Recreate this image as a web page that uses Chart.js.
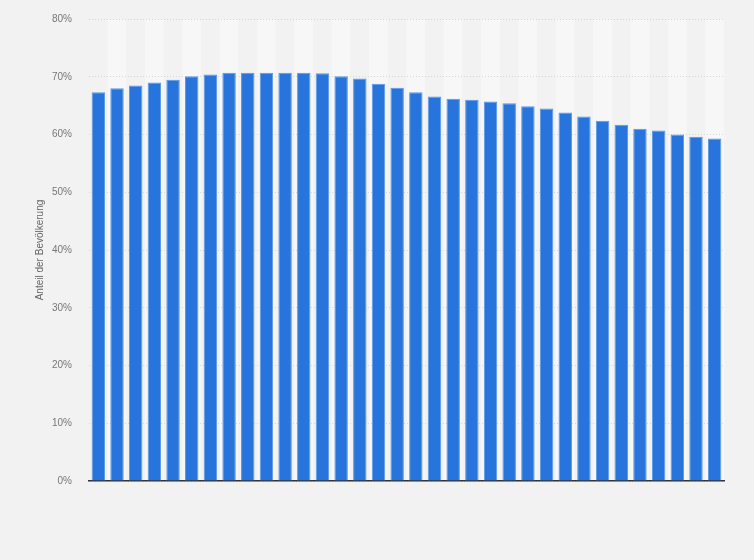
<!DOCTYPE html>
<html>
<head>
<meta charset="utf-8">
<script src="https://cdn.jsdelivr.net/npm/chart.js@4.4.1/dist/chart.umd.min.js"></script>
<style>
  html, body { margin: 0; padding: 0; background: #f2f2f2; }
  #wrap { width: 754px; height: 560px; position: relative; }
</style>
</head>
<body>
<div id="wrap"><canvas id="c"></canvas></div>
<script>
const categories = ['2017','2018','2019','2020','2021','2022','2023','2024','2025','2026','2027','2028','2029','2030','2031','2032','2033','2034','2035','2036','2037','2038','2039','2040','2041','2042','2043','2044','2045','2046','2047','2048','2049','2050'];
const shareValues = [67.3, 68.0, 68.5, 69.0, 69.5, 70.1, 70.4, 70.7, 70.7, 70.7, 70.7, 70.7, 70.6, 70.1, 69.7, 68.8, 68.1, 67.3, 66.6, 66.2, 66.0, 65.7, 65.4, 64.9, 64.5, 63.8, 63.1, 62.4, 61.7, 61.0, 60.7, 60.0, 59.6, 59.3];
const yTicks = [0, 10, 20, 30, 40, 50, 60, 70, 80];
const yTitle = 'Anteil der Bevölkerung';

const stripeUnderGrid = {
  id: 'stripesUnder',
  beforeDraw(chart) {
    const {ctx, chartArea, scales} = chart;
    const x = scales.x;
    if (!x) return;
    ctx.save();
    const half = (x.getPixelForValue(1) - x.getPixelForValue(0)) / 2;
    for (let i = 0; i < categories.length; i++) {
      const c = x.getPixelForValue(i);
      ctx.fillStyle = (i % 2 === 1) ? '#f7f7f7' : '#f2f2f2';
      ctx.fillRect(c - half, chartArea.top, half * 2, chartArea.bottom - chartArea.top);
    }
    ctx.restore();
  }
};

new Chart(document.getElementById('c'), {
  type: 'bar',
  data: {
    labels: categories,
    datasets: [{
      data: shareValues,
      backgroundColor: '#2775dc',
      borderColor: '#5a98e6',
      borderWidth: 1,
      barPercentage: 0.72,
      categoryPercentage: 1.0
    }]
  },
  options: {
    responsive: true,
    maintainAspectRatio: false,
    animation: false,
    layout: { padding: { left: 0, right: 30, top: 19, bottom: 79 } },
    plugins: { legend: { display: false }, tooltip: { enabled: false } },
    scales: {
      x: {
        ticks: { display: false },
        grid: { display: false, drawTicks: false },
        border: { display: true, color: '#333333', width: 1.5 },
        afterFit(scale) { scale.height = 0; scale.paddingLeft = 0; scale.paddingRight = 0; }
      },
      y: {
        min: 0,
        max: 80,
        afterBuildTicks(scale) { scale.ticks = yTicks.map(v => ({ value: v })); },
        ticks: {
          padding: 17,
          color: '#777777',
          font: { family: 'Liberation Sans, Arial, sans-serif', size: 10 },
          callback: v => v + '%'
        },
        grid: { color: '#d6d6d6', drawTicks: false, tickLength: 0 },
        border: { display: false, dash: [1, 2] },
        title: {
          display: true,
          text: yTitle,
          color: '#666666',
          font: { family: 'Liberation Sans, Arial, sans-serif', size: 10 },
          padding: { top: 34, bottom: 0 }
        },
        afterFit(scale) { scale.width = 89; scale.paddingTop = 0; scale.paddingBottom = 0; }
      }
    }
  },
  plugins: [stripeUnderGrid]
});
</script>
</body>
</html>
